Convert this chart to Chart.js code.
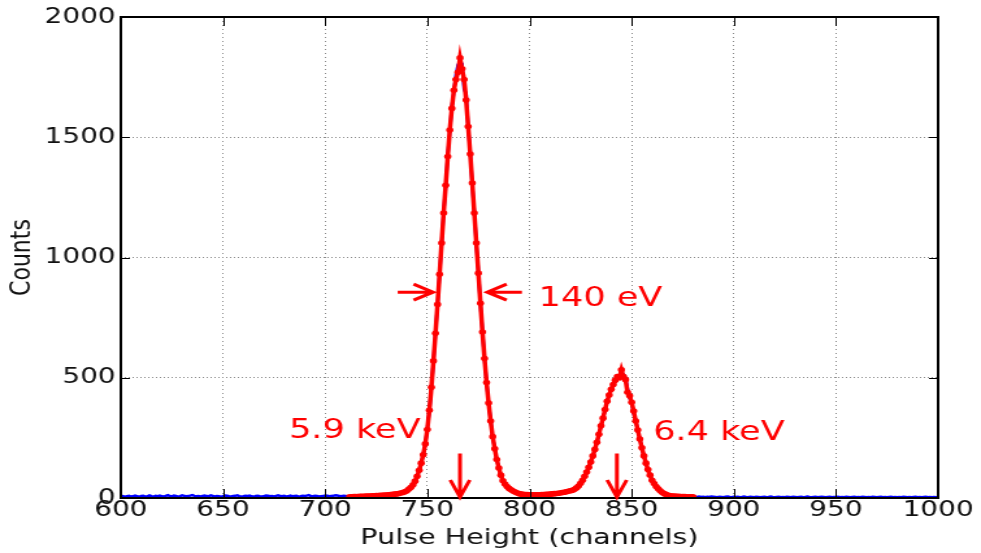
<!DOCTYPE html>
<html>
<head>
<meta charset="utf-8">
<script src="https://cdn.jsdelivr.net/npm/chart.js@4.4.1/dist/chart.umd.min.js"></script>
<style>
  html, body { margin: 0; padding: 0; background: #fff; }
  /* the figure is drawn narrow and stretched sideways */
  #wrap { width: 755px; height: 553px; transform: scaleX(1.2993); transform-origin: 0 0; }
</style>
</head>
<body>
<div id="wrap"><canvas id="spectrum" width="755" height="553"></canvas></div>
<script>
// raw counts, one value per channel
const lowStart = 600;
const rawLow = [
  6, 8, 5, 7, 9, 6, 8, 10, 7, 5,
  8, 9, 6, 7, 11, 8, 6, 9, 7, 10,
  8, 6, 9, 12, 8, 7, 10, 9, 6, 8,
  11, 9, 7, 8, 10, 12, 9, 7, 8, 6,
  9, 10, 8, 7, 11, 9, 6, 8, 7, 5,
  8, 10, 9, 7, 6, 8, 9, 11, 8, 6,
  7, 9, 8, 10, 7, 5, 8, 9, 7, 6,
  8, 10, 9, 7, 8, 6, 9, 11, 8, 7,
  9, 6, 8, 10, 7, 8, 9, 6, 7, 9,
  8, 10, 12, 8, 7, 9, 8, 6, 7, 8,
  10, 9, 7, 8, 9, 11, 10, 8, 7, 9,
  8, 6
];

const peakStart = 712;
const rawPeaks = [
  4, 6, 5, 7, 6, 6, 8, 7, 9, 8,
  7, 9, 10, 9, 11, 10, 12, 11, 13, 12,
  14, 16, 15, 18, 19, 20, 24, 25, 31, 36,
  47, 54, 72, 88, 117, 143, 182, 222, 288, 362,
  462, 566, 688, 800, 934, 1055, 1190, 1295, 1425, 1522,
  1628, 1690, 1760, 1800, 1815, 1805, 1700, 1680, 1540, 1440,
  1300, 1190, 1055, 940, 805, 695, 575, 485, 390, 325,
  250, 208, 158, 128, 92, 74, 56, 50, 38, 35,
  27, 26, 20, 19, 15, 16, 13, 15, 12, 14,
  12, 10, 8, 9, 15, 13, 16, 14, 17, 16,
  19, 18, 21, 20, 24, 23, 27, 27, 31, 31,
  37, 41, 52, 59, 76, 88, 110, 126, 152, 172,
  205, 228, 268, 296, 336, 364, 406, 424, 456, 470,
  494, 500, 508, 520, 515, 500, 455, 415, 402, 350,
  326, 278, 248, 205, 178, 142, 120, 93, 76, 58,
  50, 36, 31, 22, 19, 13, 12, 8, 9, 7,
  8, 6, 7, 5, 6, 4, 6, 5, 4
];

const highStart = 881;
const rawHigh = [
  5, 4, 6, 4, 5, 3, 5, 4, 6, 5,
  4, 3, 5, 4, 3, 5, 6, 4, 3, 5,
  4, 5, 3, 4, 6, 4, 3, 5, 4, 3,
  5, 4, 3, 4, 5, 3, 4, 6, 4, 3,
  4, 5, 3, 4, 3, 5, 4, 3, 5, 4,
  3, 4, 5, 3, 4, 6, 4, 3, 4, 5,
  3, 4, 5, 4, 3, 4, 5, 3, 4, 4,
  5, 3, 4, 3, 5, 4, 3, 4, 5, 3,
  4, 3, 5, 4, 3, 4, 3, 5, 4, 3,
  4, 5, 3, 4, 3, 4, 5, 3, 4, 3,
  4, 3, 5, 4, 3, 4, 3, 4, 5, 3,
  4, 3, 4, 5, 3, 4, 3, 4, 3, 4
];

// fitted curve over both lines, channels 712-880
const fitCounts = [
  5, 5, 6, 6, 6, 7, 7, 7, 8, 8,
  8, 9, 9, 10, 10, 11, 11, 12, 12, 13,
  14, 15, 16, 17, 19, 21, 23, 26, 30, 37,
  45, 55, 70, 90, 115, 145, 180, 225, 285, 365,
  460, 570, 685, 805, 930, 1060, 1185, 1300, 1420, 1530,
  1620, 1695, 1740, 1770, 1830, 1785, 1740, 1655, 1545, 1430,
  1310, 1185, 1060, 935, 810, 690, 580, 480, 395, 320,
  255, 205, 160, 125, 95, 72, 58, 48, 40, 34,
  29, 25, 21, 18, 16, 15, 14, 14, 13, 13,
  13, 13, 13, 13, 14, 14, 15, 15, 16, 17,
  18, 19, 20, 21, 23, 24, 26, 28, 30, 32,
  36, 42, 50, 61, 74, 90, 108, 128, 150, 175,
  202, 232, 265, 300, 332, 368, 402, 428, 452, 472,
  490, 505, 500, 533, 505, 492, 440, 425, 398, 362,
  320, 283, 245, 209, 175, 145, 118, 95, 74, 60,
  48, 38, 30, 23, 18, 14, 11, 9, 8, 8,
  7, 7, 6, 6, 6, 5, 5, 5, 5
];

const xTickValues = [600, 650, 700, 750, 800, 850, 900, 950, 1000];
const yTickValues = [0, 500, 1000, 1500, 2000];

// annotations, in channel / count units
const widthArrows = [
  { from: 735.5, to: 752.8, counts: 856 },
  { from: 796.3, to: 779.3, counts: 856 }
];
const lineArrows = [
  { channel: 766, counts: 185 },
  { channel: 842.8, counts: 185 }
];
const notes = [
  { text: '140 eV', channel: 804.5, counts: 798 },
  { text: '5.9 keV', channel: 682.3, counts: 250 },
  { text: '6.4 keV', channel: 860.5, counts: 241 }
];

function toPoints(start, counts) {
  return counts.map((c, i) => ({ x: start + i, y: c }));
}

const rawPoints = toPoints(lowStart, rawLow)
  .concat(toPoints(peakStart, rawPeaks))
  .concat(toPoints(highStart, rawHigh));
const fitPoints = toPoints(peakStart, fitCounts);

Chart.defaults.font.family = '"DejaVu Sans", sans-serif';
Chart.defaults.color = '#111';

// black box with inward ticks on all four sides
const frame = {
  id: 'frame',
  afterDatasetsDraw(chart) {
    const { ctx, chartArea: a, scales: { x, y } } = chart;
    ctx.save();
    ctx.strokeStyle = '#000';
    ctx.lineWidth = 1;
    ctx.beginPath();
    xTickValues.forEach(v => {
      const px = Math.round(x.getPixelForValue(v)) + 0.5;
      ctx.moveTo(px, a.bottom); ctx.lineTo(px, a.bottom - 9);
      ctx.moveTo(px, a.top); ctx.lineTo(px, a.top + 9);
    });
    yTickValues.forEach(v => {
      const py = Math.round(y.getPixelForValue(v)) + 0.5;
      ctx.moveTo(a.left, py); ctx.lineTo(a.left + 7, py);
      ctx.moveTo(a.right, py); ctx.lineTo(a.right - 7, py);
    });
    ctx.stroke();
    ctx.lineWidth = 2;
    ctx.strokeRect(a.left, a.top, a.right - a.left, a.bottom - a.top);
    ctx.restore();
  }
};

// red arrows and line energies
const annotate = {
  id: 'annotate',
  afterDraw(chart) {
    const { ctx, scales: { x, y } } = chart;
    ctx.save();
    ctx.strokeStyle = '#ff0000';
    ctx.fillStyle = '#ff0000';
    ctx.lineWidth = 3;
    widthArrows.forEach(a => {
      const x0 = x.getPixelForValue(a.from);
      const x1 = x.getPixelForValue(a.to);
      const py = y.getPixelForValue(a.counts);
      const dir = Math.sign(x1 - x0);
      ctx.beginPath();
      ctx.moveTo(x0, py); ctx.lineTo(x1, py);
      ctx.moveTo(x1 - dir * 15, py - 8); ctx.lineTo(x1, py); ctx.lineTo(x1 - dir * 15, py + 8);
      ctx.stroke();
    });
    lineArrows.forEach(a => {
      const px = x.getPixelForValue(a.channel);
      const top = y.getPixelForValue(a.counts);
      const tip = y.getPixelForValue(0) - 1;
      ctx.beginPath();
      ctx.moveTo(px, top); ctx.lineTo(px, tip);
      ctx.moveTo(px - 7.5, tip - 17); ctx.lineTo(px, tip); ctx.lineTo(px + 7.5, tip - 17);
      ctx.stroke();
    });
    ctx.font = '27px "DejaVu Sans"';
    ctx.textAlign = 'left';
    ctx.textBaseline = 'alphabetic';
    notes.forEach(n => {
      ctx.fillText(n.text, x.getPixelForValue(n.channel), y.getPixelForValue(n.counts));
    });
    ctx.restore();
  }
};

new Chart(document.getElementById('spectrum'), {
  type: 'line',
  data: {
    datasets: [
      {
        label: 'fit',
        data: fitPoints,
        borderColor: '#ff0000',
        backgroundColor: '#ff0000',
        borderWidth: 3.5,
        pointRadius: 2.8,
        pointBorderWidth: 0,
        pointBackgroundColor: '#ff0000',
        tension: 0
      },
      {
        label: 'data',
        data: rawPoints,
        borderColor: '#0000ff',
        borderWidth: 2.5,
        pointRadius: 0,
        tension: 0
      }
    ]
  },
  options: {
    responsive: false,
    animation: false,
    events: [],
    devicePixelRatio: 1,
    layout: { padding: { top: 17, right: 33, left: 0, bottom: 0 } },
    plugins: {
      legend: { display: false },
      tooltip: { enabled: false }
    },
    scales: {
      x: {
        type: 'linear',
        min: 600,
        max: 1000,
        afterBuildTicks: s => { s.ticks = xTickValues.map(v => ({ value: v })); },
        afterFit: s => { s.height = 55; },
        ticks: {
          padding: 0, maxRotation: 0, autoSkip: false,
          font: { size: 21.5 }, color: '#111',
          callback: v => String(v)
        },
        grid: { color: '#8a8a8a', lineWidth: 1, drawTicks: false },
        border: { display: false, dash: [1, 3] },
        title: {
          display: true,
          text: 'Pulse Height (channels)',
          font: { size: 22 },
          color: '#111',
          padding: { top: 4, bottom: 2 }
        }
      },
      y: {
        min: 0,
        max: 2000,
        afterBuildTicks: s => { s.ticks = yTickValues.map(v => ({ value: v })); },
        afterFit: s => { s.width = 93; },
        ticks: {
          padding: 4, font: { size: 21.5 }, color: '#111',
          callback: v => String(v)
        },
        grid: { color: '#8a8a8a', lineWidth: 1, drawTicks: false },
        border: { display: false, dash: [1, 2] },
        title: {
          display: true,
          text: 'Counts',
          font: { size: 22 },
          color: '#111',
          padding: { top: 4, bottom: 4 }
        }
      }
    }
  },
  plugins: [frame, annotate]
});
</script>
</body>
</html>
